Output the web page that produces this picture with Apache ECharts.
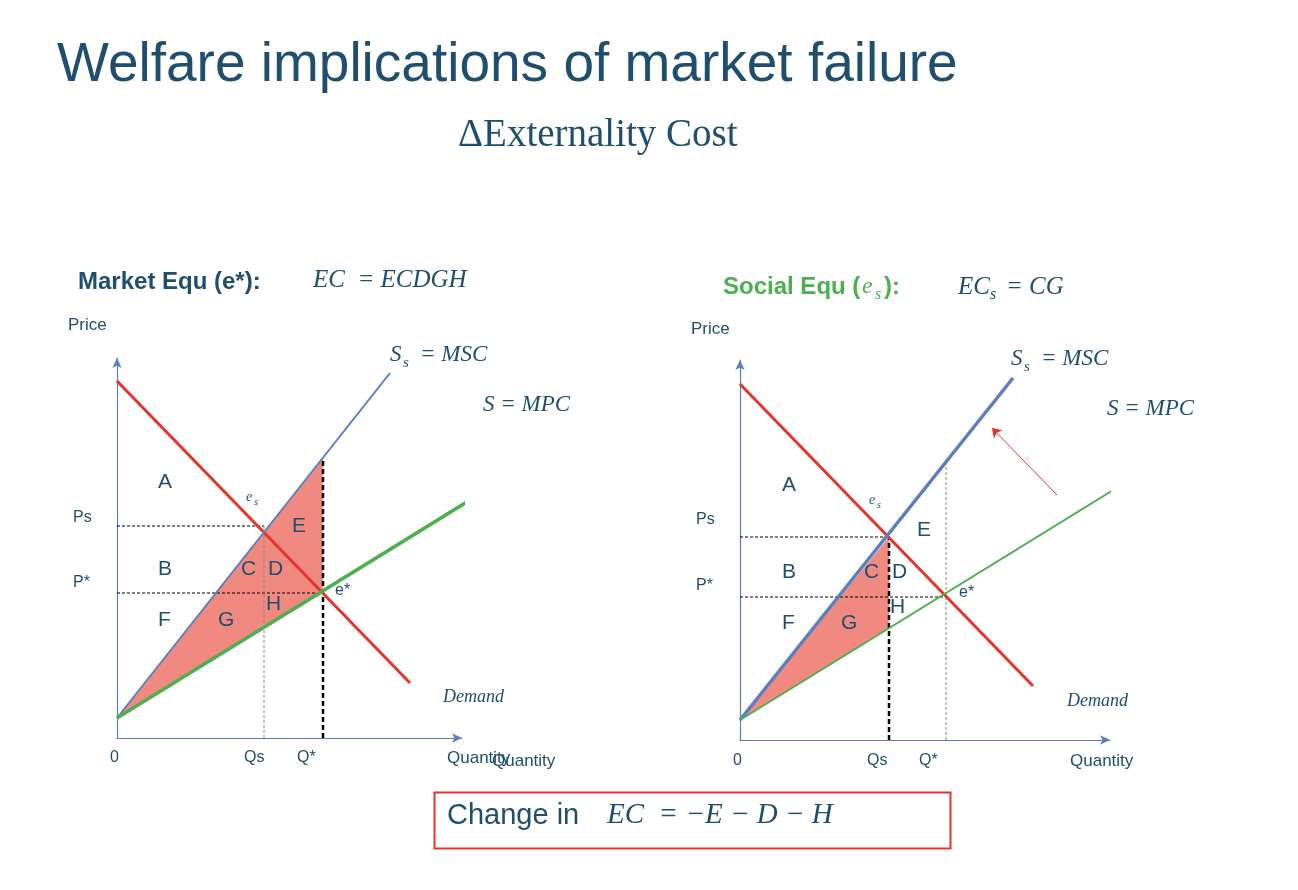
<!DOCTYPE html>
<html>
<head>
<meta charset="UTF-8">
<title>Welfare implications of market failure</title>
<script src="https://cdn.jsdelivr.net/npm/echarts@6/dist/echarts.min.js"></script>
<style>
  body { margin: 0; background: #fff; }
  #main { width: 1298px; height: 890px; }
</style>
</head>
<body>
<div id="main"></div>
<script>
// left chart (market equilibrium) data, units = offset from origin
var L_demand = [[0, 357], [293, 55]];
var L_msc = [[0, 20], [273, 365]];
var L_mpc = [[0, 20], [421, 280]];
var L_area = [[0, 20], [206, 280], [206, 145]];
var L_qstar = [[206, 0], [206, 280]];
var L_qs = [[147, 0], [147, 212]];
var L_ps = [[0, 212], [147, 212]];
var L_pstar = [[0, 145], [206, 145]];

// right chart (social equilibrium)
var R_demand = [[0, 356], [293, 54]];
var R_msc = [[0, 20], [273, 362]];
var R_mpc = [[0, 20], [422, 280]];
var R_area = [[0, 20], [149, 203], [149, 112]];
var R_qs = [[149, 0], [149, 203]];
var R_qstar = [[206, 0], [206, 278]];
var R_ps = [[0, 203], [149, 203]];
var R_pstar = [[0, 143], [206, 143]];
var R_arrow = [[317, 245], [252, 312]];

var navy = '#1F4E6E';
var red = '#E8332A';
var blue = '#5B7FBE';
var green = '#4CAF50';

var chart = echarts.init(document.getElementById('main'));

function line(data, color, width, idx, type) {
  return {
    type: 'line', data: data, xAxisIndex: idx, yAxisIndex: idx,
    symbol: 'none', clip: false,
    lineStyle: { color: color, width: width, type: type || 'solid' },
    itemStyle: { color: color }, silent: true, z: 3
  };
}
function poly(data, idx) {
  return {
    type: 'custom', xAxisIndex: idx, yAxisIndex: idx, z: 1,
    renderItem: function (params, api) {
      if (params.dataIndex > 0) return;
      var pts = data.map(function (p) { return api.coord(p); });
      return { type: 'polygon', shape: { points: pts }, style: { fill: '#F08A80' } };
    },
    data: [[0, 0]]
  };
}
var axisX = function (idx, max) {
  return {
    gridIndex: idx, type: 'value', min: 0, max: max,
    axisLine: { show: true, lineStyle: { color: blue, width: 1.2 }, symbol: ['none', 'arrow'], symbolSize: [7, 10] },
    axisTick: { show: false }, axisLabel: { show: false }, splitLine: { show: false }
  };
};
var axisY = function (idx, max) {
  return {
    gridIndex: idx, type: 'value', min: 0, max: max,
    axisLine: { show: true, lineStyle: { color: blue, width: 1.2 }, symbol: ['none', 'arrow'], symbolSize: [7, 10] },
    axisTick: { show: false }, axisLabel: { show: false }, splitLine: { show: false }
  };
};

function txt(x, y, s, size, color, font, style) {
  return { type: 'text', z: 100, left: x, top: y, style: { text: s, fontSize: size, fill: color || navy, fontFamily: font || 'Liberation Sans, Arial', fontStyle: style || 'normal' } };
}
var serif = 'Liberation Serif, DejaVu Serif';

var texts = [
  txt(57, 38, 'Welfare implications of market failure', 55, navy),
  txt(458, 116, 'ΔExternality Cost', 39, navy, serif),
  { type: 'text', z: 100, left: 78, top: 270, style: { text: 'Market Equ (e*):', fontSize: 24, fontWeight: 'bold', fill: navy, fontFamily: 'Liberation Sans' } },
  txt(313, 268, 'EC  = ECDGH', 25, navy, serif, 'italic'),
  { type: 'text', z: 100, left: 723, top: 275, style: { text: 'Social Equ (', fontSize: 24, fontWeight: 'bold', fill: green, fontFamily: 'Liberation Sans' } },
  txt(862, 275, 'e', 24, green, serif, 'italic'),
  txt(875, 287, 's', 16, green, serif, 'italic'),
  { type: 'text', z: 100, left: 884, top: 275, style: { text: '):', fontSize: 24, fontWeight: 'bold', fill: green, fontFamily: 'Liberation Sans' } },
  txt(958, 275, 'EC', 25, navy, serif, 'italic'),
  txt(990, 287, 's', 16, navy, serif, 'italic'),
  txt(1006, 275, '= CG', 25, navy, serif, 'italic'),
  // left chart labels
  txt(68, 317, 'Price', 17, navy),
  txt(390, 343, 'S', 23, navy, serif, 'italic'), txt(403, 356, 's', 15, navy, serif, 'italic'), txt(420, 343, '= MSC', 23, navy, serif, 'italic'),
  txt(483, 393, 'S = MPC', 23, navy, serif, 'italic'),
  txt(443, 688, 'Demand', 18, navy, serif, 'italic'),
  txt(158, 472, 'A', 21, navy), txt(158, 559, 'B', 21, navy), txt(158, 610, 'F', 21, navy),
  txt(241, 559, 'C', 21, navy), txt(268, 559, 'D', 21, navy), txt(292, 516, 'E', 21, navy),
  txt(218, 610, 'G', 21, navy), txt(266, 594, 'H', 21, navy),
  txt(246, 490, 'e', 14, navy, serif, 'italic'), txt(254, 497, 's', 10, navy, serif, 'italic'),
  txt(335, 583, 'e*', 16, navy),
  txt(73, 510, 'Ps', 16, navy), txt(73, 575, 'P*', 16, navy),
  txt(110, 750, '0', 16, navy), txt(244, 750, 'Qs', 16, navy), txt(297, 750, 'Q*', 16, navy),
  txt(447, 750, 'Quantity', 17, navy), txt(492, 753, 'Quantity', 17, navy),
  // right chart labels
  txt(691, 321, 'Price', 17, navy),
  txt(1011, 347, 'S', 23, navy, serif, 'italic'), txt(1024, 360, 's', 15, navy, serif, 'italic'), txt(1041, 347, '= MSC', 23, navy, serif, 'italic'),
  txt(1107, 397, 'S = MPC', 23, navy, serif, 'italic'),
  txt(1067, 692, 'Demand', 18, navy, serif, 'italic'),
  txt(782, 475, 'A', 21, navy), txt(782, 562, 'B', 21, navy), txt(782, 613, 'F', 21, navy),
  txt(864, 562, 'C', 21, navy), txt(892, 562, 'D', 21, navy), txt(917, 520, 'E', 21, navy),
  txt(841, 613, 'G', 21, navy), txt(890, 597, 'H', 21, navy),
  txt(869, 493, 'e', 14, navy, serif, 'italic'), txt(877, 500, 's', 10, navy, serif, 'italic'),
  txt(959, 585, 'e*', 16, navy),
  txt(696, 512, 'Ps', 16, navy), txt(696, 578, 'P*', 16, navy),
  txt(733, 753, '0', 16, navy), txt(867, 753, 'Qs', 16, navy), txt(919, 753, 'Q*', 16, navy),
  txt(1070, 753, 'Quantity', 17, navy),
  // change box
  { type: 'rect', z: 100, left: 432, top: 790, shape: { width: 516, height: 56 }, style: { fill: 'none', stroke: red, lineWidth: 2 } },
  txt(447, 801, 'Change in ', 29, navy),
  txt(607, 801, 'EC  = −E − D − H', 29, navy, serif, 'italic')
];

chart.setOption({
  animation: false,
  grid: [
    { left: 117, top: 358, width: 345, height: 380 },
    { left: 740, top: 360, width: 370, height: 380 }
  ],
  xAxis: [axisX(0, 345), axisX(1, 370)],
  yAxis: [axisY(0, 380), axisY(1, 380)],
  series: [
    poly(L_area, 0),
    line(L_ps, '#000', 1, 0, [3, 2]),
    line(L_pstar, '#000', 1, 0, [3, 2]),
    line(L_qs, '#888', 1, 0, [3, 2]),
    line(L_qstar, '#000', 2.5, 0, [5, 3]),
    line(L_demand, red, 3, 0),
    line(L_msc, blue, 2, 0),
    line(L_mpc, green, 3.5, 0),
    poly(R_area, 1),
    line(R_ps, '#000', 1, 1, [3, 2]),
    line(R_pstar, '#000', 1, 1, [3, 2]),
    line(R_qstar, '#888', 1, 1, [3, 2]),
    line(R_qs, '#000', 2.5, 1, [5, 3]),
    line(R_demand, red, 3, 1),
    line(R_msc, blue, 3.5, 1),
    line(R_mpc, green, 2, 1),
    {
      type: 'lines', coordinateSystem: 'cartesian2d', xAxisIndex: 1, yAxisIndex: 1,
      symbol: ['none', 'arrow'], symbolSize: 9, silent: true, z: 4,
      lineStyle: { color: red, width: 1, opacity: 1 },
      data: [{ coords: R_arrow }]
    }
  ],
  graphic: texts
});
</script>
</body>
</html>
